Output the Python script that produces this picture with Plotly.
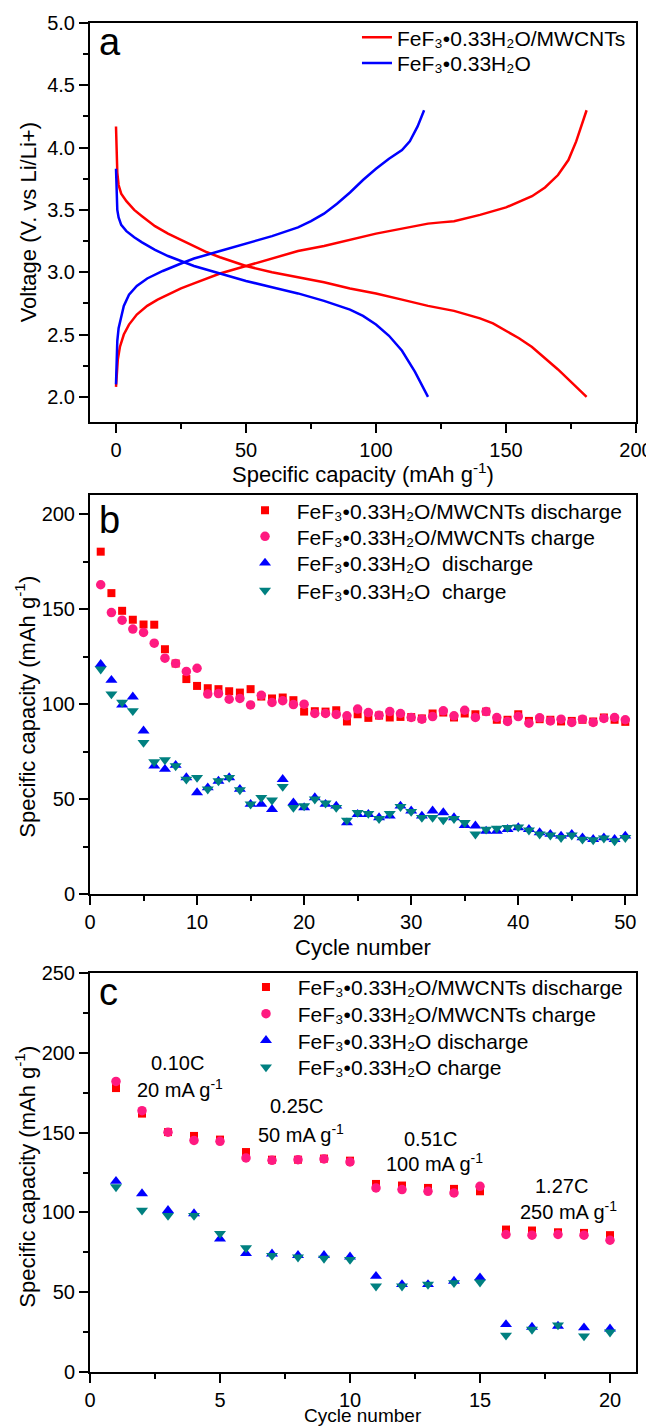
import plotly.graph_objects as go

FONT = "Arial, Liberation Sans, sans-serif"
RED = "#FF0000"
PINK = "#FF1A80"
BLUE = "#0000FF"
TEAL = "#008080"
NB = "\u00a0"

NAME_MW = "FeF\u2083•0.33H\u2082O/MWCNTs"
NAME_H = "FeF\u2083•0.33H\u2082O"

# ---------------- Panel a: charge/discharge profiles ----------------
cap_mw_dis = [0, 0.2, 0.5, 1, 2, 4, 7, 10, 15, 20, 25, 30, 35, 40, 50, 60, 70, 80, 90, 100,
              110, 120, 130, 140, 145, 150, 155, 160, 165, 170, 175, 181]
v_mw_dis = [4.17, 3.95, 3.80, 3.70, 3.63, 3.57, 3.50, 3.45, 3.37, 3.31, 3.26, 3.21, 3.16, 3.12,
            3.05, 3.00, 2.96, 2.92, 2.87, 2.83, 2.78, 2.73, 2.69, 2.63, 2.59, 2.53, 2.47, 2.40,
            2.31, 2.22, 2.12, 2.00]
cap_mw_ch = [0, 0.3, 0.7, 1.5, 3, 5, 8, 12, 16, 20, 25, 30, 35, 40, 50, 60, 70, 80, 90, 100,
             110, 120, 125, 130, 140, 150, 160, 165, 170, 174, 177, 179, 181]
v_mw_ch = [2.08, 2.20, 2.30, 2.40, 2.50, 2.58, 2.66, 2.73, 2.78, 2.82, 2.87, 2.91, 2.95, 2.99,
           3.05, 3.11, 3.17, 3.21, 3.26, 3.31, 3.35, 3.39, 3.40, 3.41, 3.46, 3.52, 3.61, 3.68,
           3.78, 3.90, 4.05, 4.18, 4.30]
cap_h_dis = [0, 0.2, 0.5, 1, 2, 4, 7, 10, 15, 20, 25, 30, 40, 50, 60, 70, 80, 90, 95, 100,
             105, 110, 115, 120]
v_h_dis = [3.83, 3.60, 3.50, 3.44, 3.38, 3.33, 3.28, 3.24, 3.18, 3.13, 3.09, 3.05, 2.99, 2.93,
           2.88, 2.83, 2.77, 2.70, 2.65, 2.58, 2.49, 2.37, 2.20, 2.00]
cap_h_ch = [0, 0.2, 0.5, 1, 2, 3, 5, 8, 12, 18, 25, 30, 40, 50, 60, 70, 75, 80, 85, 90, 95,
            100, 105, 110, 113, 116, 118.5]
v_h_ch = [2.10, 2.30, 2.45, 2.55, 2.65, 2.73, 2.82, 2.89, 2.95, 3.01, 3.07, 3.11, 3.17, 3.23,
          3.29, 3.36, 3.41, 3.47, 3.55, 3.64, 3.74, 3.83, 3.91, 3.98, 4.05, 4.17, 4.30]

# ---------------- Panel b: cycling at constant rate ----------------
cycles_b = list(range(1, 51))
mw_dis_b = [180.2, 158.4, 149.1, 144.4, 141.9, 141.8, 128.9, 121.4, 113.2, 109.6,
            108.4, 107.9, 106.8, 106.1, 107.9, 104.0, 103.0, 103.5, 102.1, 96.1,
            96.3, 96.1, 96.8, 90.9, 94.7, 92.8, 94.0, 93.0, 93.3, 93.2,
            92.5, 95.1, 95.6, 93.0, 95.1, 94.7, 96.1, 91.8, 91.8, 94.7,
            91.2, 92.1, 91.8, 90.9, 91.2, 91.8, 90.9, 93.0, 91.8, 90.7]
mw_ch_b = [162.8, 148.2, 144.2, 139.5, 137.7, 132.1, 124.2, 121.4, 117.2, 118.9,
           105.3, 105.6, 102.6, 103.0, 99.6, 104.7, 100.9, 101.8, 99.8, 100.0,
           95.1, 95.1, 94.6, 93.9, 97.4, 95.6, 94.2, 96.1, 95.1, 93.0,
           92.1, 93.5, 96.5, 93.9, 96.8, 93.0, 96.1, 93.0, 90.9, 93.5,
           90.0, 92.8, 91.2, 92.1, 90.4, 92.1, 90.4, 92.5, 93.0, 91.8]
h_dis_b = [121.0, 112.6, 99.6, 103.9, 86.0, 67.5, 65.8, 67.9, 61.4, 53.5,
           56.1, 59.6, 61.4, 55.3, 47.4, 47.4, 44.7, 60.5, 48.2, 45.6,
           50.9, 47.4, 46.5, 37.7, 42.1, 42.1, 40.4, 41.2, 46.5, 43.9,
           41.2, 43.9, 43.0, 40.4, 36.3, 36.0, 33.3, 33.3, 34.2, 35.1,
           34.2, 32.5, 31.6, 30.7, 31.6, 29.8, 28.9, 29.8, 28.9, 30.7]
h_ch_b = [118.4, 105.3, 100.9, 96.5, 79.8, 69.6, 70.7, 67.5, 60.5, 61.4,
          55.3, 59.6, 61.4, 54.9, 47.4, 50.9, 49.5, 56.7, 45.6, 46.5,
          50.0, 47.9, 45.6, 38.9, 43.0, 42.5, 39.8, 42.5, 46.1, 43.5,
          40.4, 40.4, 39.1, 39.8, 37.7, 31.6, 34.2, 34.7, 35.1, 35.4,
          33.7, 31.6, 31.1, 29.8, 31.1, 28.9, 28.6, 29.5, 28.1, 29.8]

# ---------------- Panel c: rate capability ----------------
cycles_c = list(range(1, 21))
mw_dis_c = [178.0, 162.0, 150.4, 148.0, 145.7, 137.9, 133.1, 133.1, 133.8, 132.5,
            117.9, 116.9, 115.4, 114.8, 113.3, 89.3, 88.7, 87.6, 87.2, 85.8]
mw_ch_c = [182.2, 163.8, 150.3, 145.2, 144.6, 134.2, 132.7, 133.1, 133.6, 131.7,
           115.4, 114.4, 113.3, 112.3, 116.4, 86.2, 85.8, 86.2, 85.8, 82.6]
h_dis_c = [119.6, 111.9, 101.4, 99.3, 83.5, 74.3, 74.1, 73.2, 73.2, 72.2,
           60.1, 54.9, 54.9, 57.0, 59.1, 29.8, 28.2, 28.8, 27.8, 27.1]
h_ch_c = [116.0, 101.4, 98.1, 98.1, 86.8, 77.8, 73.0, 72.0, 71.2, 70.5,
          53.8, 53.8, 54.9, 55.9, 56.3, 23.0, 26.7, 29.4, 22.5, 25.0]

rate_labels = ["0.10C", "20 mA g<sup>-1</sup>", "0.25C", "50 mA g<sup>-1</sup>",
               "0.51C", "100 mA g<sup>-1</sup>", "1.27C", "250 mA g<sup>-1</sup>"]
rate_label_x = [3.37, 3.45, 7.95, 8.1, 13.1, 13.25, 18.15, 18.4]
rate_label_y = [193.7, 177.6, 166.5, 149.8, 146.0, 131.5, 116.9, 101.4]

XTITLE_A = "Specific capacity (mAh g<sup>-1</sup>)"
YTITLE_A = "Voltage (V. vs Li/Li+)"
XTITLE_BC = "Cycle number"
YTITLE_BC = "Specific capacity (mAh g<sup>-1</sup>)"

fig = go.Figure()

# panel a (one single-entry legend per line so rows sit where the reference has them)
fig.add_trace(go.Scatter(x=cap_mw_dis, y=v_mw_dis, mode="lines", name=NAME_MW,
                         line=dict(color=RED, width=2.5), xaxis="x", yaxis="y", legend="legend"))
fig.add_trace(go.Scatter(x=cap_mw_ch, y=v_mw_ch, mode="lines", name=NAME_MW, showlegend=False,
                         line=dict(color=RED, width=2.5), xaxis="x", yaxis="y", legend="legend"))
fig.add_trace(go.Scatter(x=cap_h_dis, y=v_h_dis, mode="lines", name=NAME_H,
                         line=dict(color=BLUE, width=2.5), xaxis="x", yaxis="y", legend="legend2"))
fig.add_trace(go.Scatter(x=cap_h_ch, y=v_h_ch, mode="lines", name=NAME_H, showlegend=False,
                         line=dict(color=BLUE, width=2.5), xaxis="x", yaxis="y", legend="legend2"))

def add_cycle_traces(xs, a, b, c, d, xa, ya, legs, names):
    fig.add_trace(go.Scatter(x=xs, y=a, mode="markers", name=names[0], xaxis=xa, yaxis=ya, legend=legs[0],
                             marker=dict(symbol="square", size=8, color=RED)))
    fig.add_trace(go.Scatter(x=xs, y=b, mode="markers", name=names[1], xaxis=xa, yaxis=ya, legend=legs[1],
                             marker=dict(symbol="circle", size=9.5, color=PINK)))
    fig.add_trace(go.Scatter(x=xs, y=c, mode="markers", name=names[2], xaxis=xa, yaxis=ya, legend=legs[2],
                             marker=dict(symbol="triangle-up", size=10.5, color=BLUE)))
    fig.add_trace(go.Scatter(x=xs, y=d, mode="markers", name=names[3], xaxis=xa, yaxis=ya, legend=legs[3],
                             marker=dict(symbol="triangle-down", size=10.5, color=TEAL)))

P = NB + NB
names_b = [P + NAME_MW + " discharge", P + NAME_MW + " charge",
           P + NAME_H + NB + " discharge", P + NAME_H + NB + " charge"]
names_c = [P + NAME_MW + " discharge", P + NAME_MW + " charge",
           P + NAME_H + " discharge", P + NAME_H + " charge"]
add_cycle_traces(cycles_b, mw_dis_b, mw_ch_b, h_dis_b, h_ch_b, "x2", "y2",
                 ["legend3", "legend4", "legend5", "legend6"], names_b)
add_cycle_traces(cycles_c, mw_dis_c, mw_ch_c, h_dis_c, h_ch_c, "x3", "y3",
                 ["legend7", "legend8", "legend9", "legend10"], names_c)

tickfont = dict(family=FONT, size=20, color="black")
titlefont = dict(family=FONT, size=22, color="black")
legfont = dict(family=FONT, size=21, color="black")

def axis(rng, dtick, minor_dtick, domain=None, anchor=None, fmt=None):
    d = dict(range=rng, dtick=dtick, tick0=0, showline=True, linewidth=2, linecolor="black",
             mirror=True, ticks="outside", ticklen=9, tickwidth=2, tickcolor="black",
             minor=dict(dtick=minor_dtick, tick0=0, ticks="outside", ticklen=5, tickwidth=2,
                        tickcolor="black"),
             showgrid=False, zeroline=False, tickfont=tickfont, fixedrange=True,
             automargin=False)
    if domain is not None:
        d["domain"] = domain
    if anchor is not None:
        d["anchor"] = anchor
    if fmt is not None:
        d["tickformat"] = fmt
    return d

dom_a = [0.7044, 1.0]
dom_b = [0.3541, 0.6501]
dom_c = [0.0, 0.2956]

def leg(x, y):
    return dict(x=x, y=y, xref="container", yref="container", xanchor="left", yanchor="middle",
                bgcolor="rgba(0,0,0,0)", font=legfont, borderwidth=0)

# the page body keeps its default 8px margin, so the figure is 8px smaller than the window
fig.update_layout(
    width=646, height=1419,
    margin=dict(l=82, r=18, t=15, b=55, autoexpand=False),
    paper_bgcolor="white", plot_bgcolor="white",
    font=dict(family=FONT, color="black"),
    xaxis=axis([-10, 200], 50, 25, anchor="y"),
    yaxis=axis([1.8, 5.0], 0.5, 0.25, domain=dom_a, anchor="x", fmt=".1f"),
    xaxis2=axis([0, 51], 10, 5, anchor="y2"),
    yaxis2=axis([0, 210], 50, 25, domain=dom_b, anchor="x2"),
    xaxis3=axis([0, 21], 5, 2.5, anchor="y3"),
    yaxis3=axis([0, 250], 50, 25, domain=dom_c, anchor="x3"),
    legend=leg(0.5402, 0.97907),
    legend2=leg(0.5402, 0.96103),
    legend3=leg(0.3669, 0.64574),
    legend4=leg(0.3669, 0.62742),
    legend5=leg(0.3669, 0.60867),
    legend6=leg(0.3669, 0.58936),
    legend7=leg(0.3684, 0.30987),
    legend8=leg(0.3684, 0.29105),
    legend9=leg(0.3684, 0.27224),
    legend10=leg(0.3684, 0.25342),
    showlegend=True,
)

# axis titles as annotations
for t, xr, yv, fs in [(XTITLE_A, "x domain", 0.6664, 22),
                      (XTITLE_BC, "x2 domain", 0.3150, 22),
                      (XTITLE_BC, "x3 domain", -0.03225, 19)]:
    fig.add_annotation(text=t, x=0.5, y=yv, xref=xr, yref="paper", xanchor="center", yanchor="middle",
                       showarrow=False, font=dict(family=FONT, size=fs, color="black"))
for t, yr, xv, yv in [(YTITLE_A, "y domain", -0.1136, 0.5),
                      (YTITLE_BC, "y2 domain", -0.119, 0.47),
                      (YTITLE_BC, "y3 domain", -0.119, 0.49)]:
    fig.add_annotation(text=t, x=xv, y=yv, xref="paper", yref=yr, xanchor="center", yanchor="middle",
                       textangle=-90, showarrow=False, font=titlefont)

# panel letters
for letter, xr, yr, yv in [("a", "x domain", "y domain", 0.952),
                           ("b", "x2 domain", "y2 domain", 0.937),
                           ("c", "x3 domain", "y3 domain", 0.953)]:
    fig.add_annotation(text=letter, x=0.012, y=yv, xref=xr, yref=yr, xanchor="left", yanchor="middle",
                       showarrow=False, font=dict(family=FONT, size=38, color="black"))

# rate labels in panel c
for t, xv, yv in zip(rate_labels, rate_label_x, rate_label_y):
    fig.add_annotation(text=t, x=xv, y=yv, xref="x3", yref="y3", showarrow=False,
                       font=dict(family=FONT, size=20, color="black"))

fig.write_html("out.html")
